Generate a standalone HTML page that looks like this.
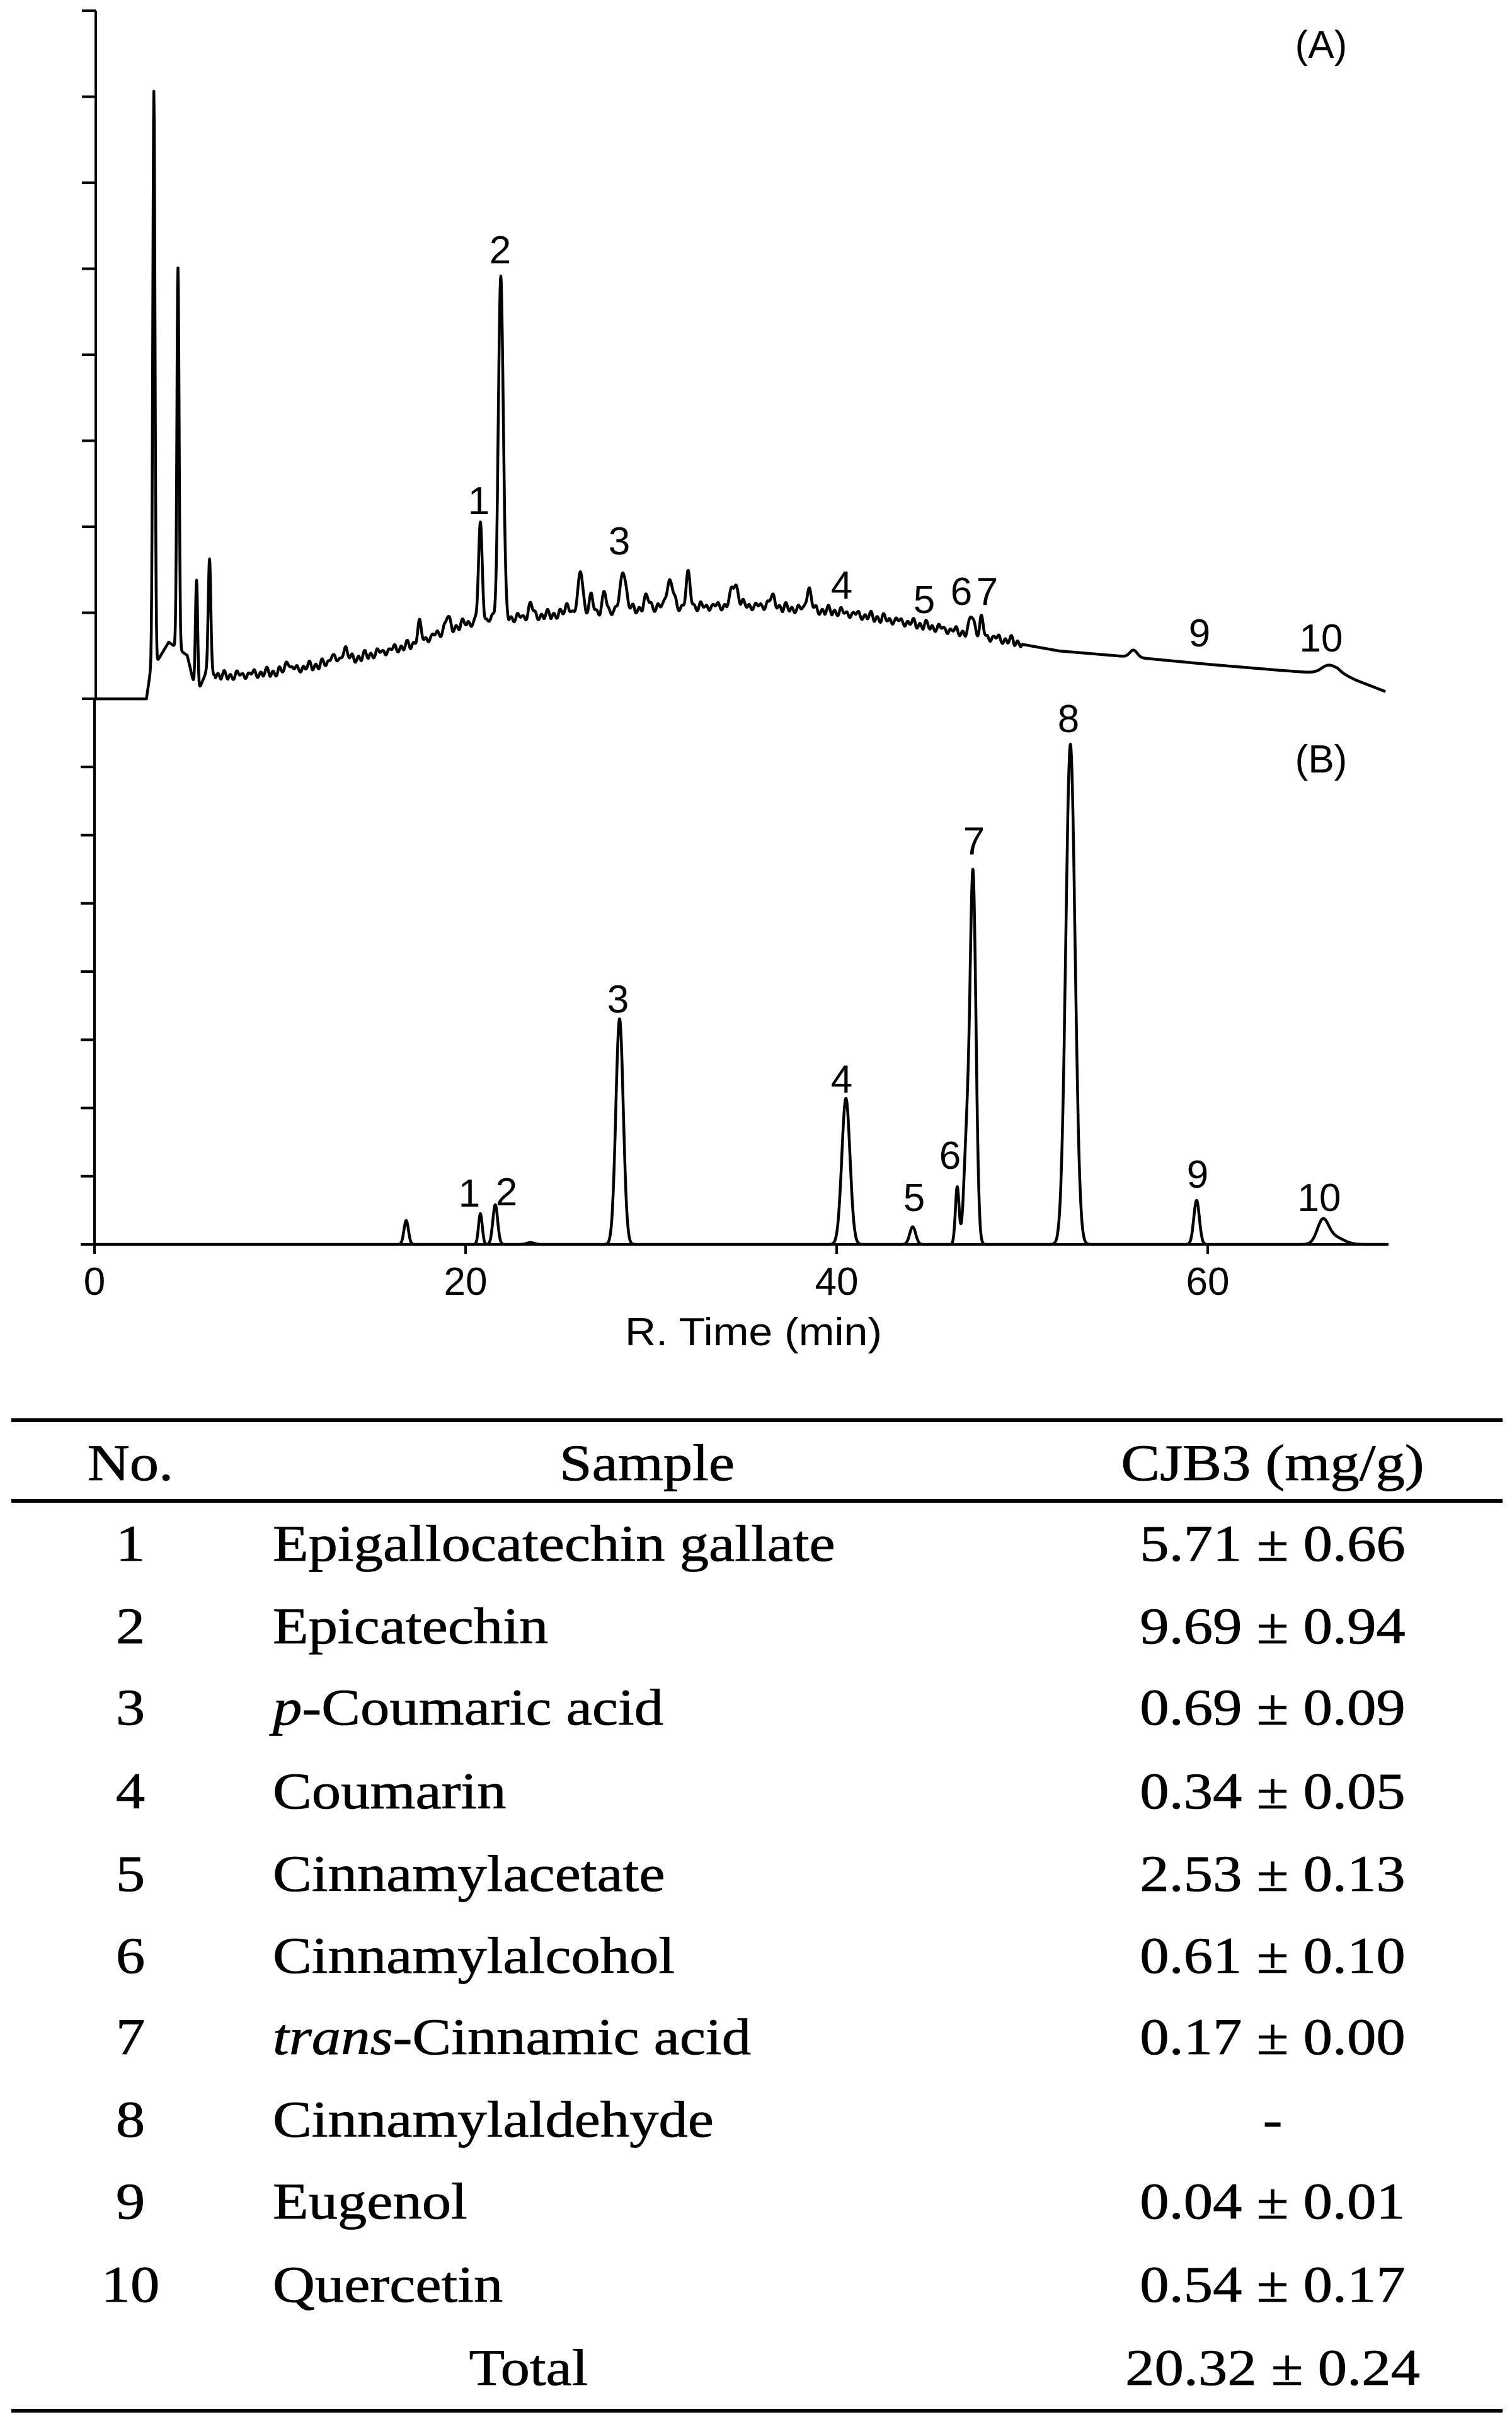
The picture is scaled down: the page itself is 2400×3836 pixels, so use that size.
<!DOCTYPE html>
<html><head><meta charset="utf-8"><style>
html,body{margin:0;padding:0;background:#fff;}
svg{display:block;}
.a{font-family:"Liberation Sans",Arial,sans-serif;font-size:62px;fill:#000;}
.t{font-family:"Liberation Serif","Times New Roman",serif;font-size:82px;fill:#000;stroke:#000;stroke-width:0.8px;}
</style></head><body>
<svg id="s" width="2400" height="3836" viewBox="0 0 2400 3836" xmlns="http://www.w3.org/2000/svg">
<rect width="2400" height="3836" fill="#fff"/>
<g id="axes" stroke="#000" stroke-width="4" fill="none">
<line x1="152" y1="17" x2="152" y2="1109"/>
<line x1="150" y1="1109" x2="150" y2="1990"/>
<line x1="150" y1="1975" x2="2204" y2="1975"/>
</g>
<g id="ticks" stroke="#000" stroke-width="4"></g>
<path id="pa" fill="none" stroke="#000" stroke-width="4.5" stroke-linejoin="round"/>
<path id="pb" fill="none" stroke="#000" stroke-width="4.5" stroke-linejoin="round"/>
<g class="a" text-anchor="middle">
<text x="2097" y="92">(A)</text>
<text x="794" y="418">2</text>
<text x="760" y="816">1</text>
<text x="983" y="880">3</text>
<text x="1336" y="950">4</text>
<text x="1467" y="973">5</text>
<text x="1526" y="960">6</text>
<text x="1567" y="960">7</text>
<text x="1904" y="1026">9</text>
<text x="2097" y="1034">10</text>
<text x="2097" y="1226">(B)</text>
<text x="1696" y="1162">8</text>
<text x="1546" y="1356">7</text>
<text x="981" y="1607">3</text>
<text x="1336" y="1734">4</text>
<text x="1508" y="1855">6</text>
<text x="1451" y="1922">5</text>
<text x="745" y="1915">1</text>
<text x="804" y="1913">2</text>
<text x="1901" y="1885">9</text>
<text x="2094" y="1922">10</text>
<text x="150" y="2055">0</text>
<text x="739" y="2055">20</text>
<text x="1328" y="2055">40</text>
<text x="1917" y="2055">60</text>
<text x="1196" y="2135" textLength="408" lengthAdjust="spacingAndGlyphs">R. Time (min)</text>
</g>
<g stroke="#000" stroke-width="6">
<line x1="18" y1="2254" x2="2385" y2="2254"/>
<line x1="18" y1="2382" x2="2385" y2="2382"/>
<line x1="18" y1="3826" x2="2385" y2="3826"/>
</g>
<g class="t" text-anchor="middle" transform="translate(207,0) scale(1.13,1)">
<text x="0" y="2349">No.</text>
<text x="0" y="2477">1</text><text x="0" y="2608">2</text><text x="0" y="2737">3</text>
<text x="0" y="2870">4</text><text x="0" y="3001">5</text><text x="0" y="3131">6</text>
<text x="0" y="3260">7</text><text x="0" y="3391">8</text><text x="0" y="3521">9</text>
<text x="0" y="3653">10</text>
</g>
<g class="t" text-anchor="middle" transform="translate(1027,0) scale(1.13,1)">
<text x="0" y="2349">Sample</text>
</g>
<g class="t" text-anchor="middle" transform="translate(839,0) scale(1.13,1)">
<text x="0" y="3785">Total</text>
</g>
<g class="t" transform="translate(433,0) scale(1.13,1)">
<text x="0" y="2477">Epigallocatechin gallate</text>
<text x="0" y="2608">Epicatechin</text>
<text x="0" y="2737"><tspan font-style="italic">p</tspan>-Coumaric acid</text>
<text x="0" y="2870">Coumarin</text>
<text x="0" y="3001">Cinnamylacetate</text>
<text x="0" y="3131">Cinnamylalcohol</text>
<text x="0" y="3260"><tspan font-style="italic">trans</tspan>-Cinnamic acid</text>
<text x="0" y="3391">Cinnamylaldehyde</text>
<text x="0" y="3521">Eugenol</text>
<text x="0" y="3653">Quercetin</text>
</g>
<g class="t" text-anchor="middle" transform="translate(2020,0) scale(1.13,1)">
<text x="0" y="2349">CJB3 (mg/g)</text>
<text x="0" y="2477">5.71 ± 0.66</text>
<text x="0" y="2608">9.69 ± 0.94</text>
<text x="0" y="2737">0.69 ± 0.09</text>
<text x="0" y="2870">0.34 ± 0.05</text>
<text x="0" y="3001">2.53 ± 0.13</text>
<text x="0" y="3131">0.61 ± 0.10</text>
<text x="0" y="3260">0.17 ± 0.00</text>
<text x="0" y="3391">-</text>
<text x="0" y="3521">0.04 ± 0.01</text>
<text x="0" y="3653">0.54 ± 0.17</text>
<text x="0" y="3785">20.32 ± 0.24</text>
</g>
</svg>
<script>
(function(){
var tk=document.getElementById('ticks'),h='';
for(var i=0;i<9;i++){var y=17+i*136.5;h+='<line x1="130" y1="'+y+'" x2="152" y2="'+y+'"/>';}
for(var i=1;i<9;i++){var y=1109+i*108.25;h+='<line x1="128" y1="'+y+'" x2="150" y2="'+y+'"/>';}
[0,20,40,60].forEach(function(t){var x=150+29.45*t;h+='<line x1="'+x+'" y1="1975" x2="'+x+'" y2="1990"/>';});
tk.innerHTML=h;
function X(t){return 150+29.45*t;}
var bl=[[0,789],[2.8,789],[3.0,760],[4,725],[5,740],[5.5,785],[6,760],[7,765],[10,760],[14,745],[17,730],[20,705],[22,700],[25,695],[30,688],[35,685],[40,692],[44,705],[48,720],[52,735],[56,742],[60,750],[64,757],[66,760],[67,758],[68,768],[69.6,781]];
function base(t){for(var i=0;i<bl.length-1;i++){if(t<=bl[i+1][0]){var a=bl[i],b=bl[i+1];return a[1]+(b[1]-a[1])*(t-a[0])/(b[0]-a[0]);}}return 781;}
var pa=[[3.2,650,0.06],[4.5,430,0.06],[5.5,130,0.06],[6.2,130,0.07],[20.8,110,0.1],[21.9,390,0.13],[26.2,50,0.12],[28.5,45,0.15],[31,30,0.18],[32,35,0.12],[34.5,25,0.18],[38.5,25,0.12],[47.3,22,0.12],[47.8,18,0.1],[56,8,0.2],[66.5,8,0.4],[17.5,20,0.1],[13.5,15,0.12],[12.8,10,0.1],[10.4,12,0.1],[23.5,15,0.1],[27.5,20,0.1],[19,15,0.12],[36.5,10,0.2],[26.8,18,0.1],[29.8,12,0.15],[25.5,12,0.1]];
var d='';
for(var t=0;t<=69.6;t+=0.02){
 var y=base(t);
 for(var k=0;k<pa.length;k++){var p=pa[k],z=(t-p[0])/p[2];if(Math.abs(z)<6)y-=p[1]*Math.exp(-0.5*z*z);}
 if(t>6.5&&t<50){y-=5*Math.max(0,Math.sin(t*8.3))+3*Math.sin(t*19.1);}
 d+=(d?'L':'M')+X(t).toFixed(1)+' '+(y/0.7114).toFixed(1);
}
document.getElementById('pa').setAttribute('d',d);
var pb=[[16.8,38,0.12],[20.8,49,0.1],[21.6,63,0.13],[23.5,3,0.2],[28.3,358,0.2],[40.5,232,0.22],[44.1,28,0.16],[46.5,91,0.1],[47.0,150,0.15],[47.35,585,0.16],[52.6,794,0.25],[59.4,70,0.15],[66.2,35,0.3],[66.8,12,0.5]];
d='';
for(var t=0;t<=69.6;t+=0.02){
 var y=1975;
 for(var k=0;k<pb.length;k++){var p=pb[k],z=(t-p[0])/p[2];if(Math.abs(z)<6)y-=p[1]*Math.exp(-0.5*z*z);}
 d+=(d?'L':'M')+X(t).toFixed(1)+' '+y.toFixed(1);
}
document.getElementById('pb').setAttribute('d',d);
})();
</script>
</body></html>
